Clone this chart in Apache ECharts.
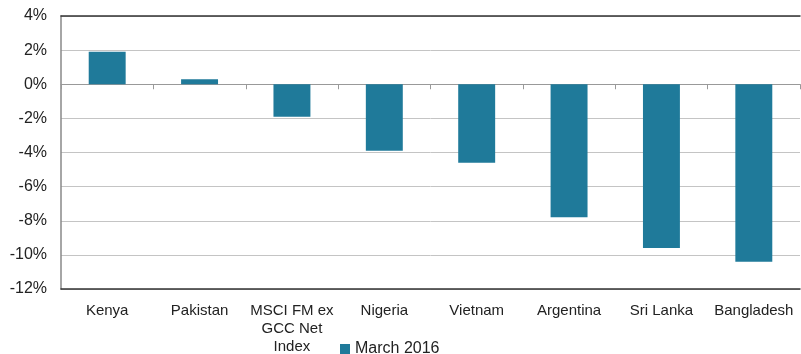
<!DOCTYPE html>
<html>
<head>
<meta charset="utf-8">
<script src="https://cdn.jsdelivr.net/npm/echarts@6/dist/echarts.min.js"></script>
<style>
  html, body { margin: 0; padding: 0; background: #fff; }
  #chart { width: 801px; height: 354px; }
</style>
</head>
<body>
<div id="chart"></div>
<script>
// categories and values (percent)
var categories = ['Kenya', 'Pakistan', 'MSCI FM ex\nGCC Net\nIndex', 'Nigeria', 'Vietnam', 'Argentina', 'Sri Lanka', 'Bangladesh']
var march2016 = [1.9, 0.3, -1.9, -3.9, -4.6, -7.8, -9.6, -10.4]
var seriesName = 'March 2016'

var chart = echarts.init(document.getElementById('chart'))
var font = 'Liberation Sans, Arial, sans-serif'

chart.setOption({
  animation: false,
  grid: { left: 61, right: 1, top: 16, bottom: 65, containLabel: false, outerBoundsMode: 'none' },
  legend: {
    data: [seriesName],
    left: 335,
    top: 336,
    itemWidth: 10,
    itemHeight: 10,
    itemGap: 5,
    icon: 'rect',
    textStyle: { fontFamily: font, fontSize: 16, color: '#222' }
  },
  xAxis: [
    {
      type: 'category',
      data: categories,
      position: 'bottom',
      axisLine: { onZero: false, lineStyle: { color: '#333', width: 1.5 } },
      axisTick: { show: false },
      axisLabel: { fontFamily: font, fontSize: 15, color: '#222', margin: 13, lineHeight: 18, interval: 0 }
    },
    {
      type: 'category',
      data: categories,
      position: 'top',
      axisLine: { onZero: false, lineStyle: { color: '#333', width: 1.5 } },
      axisTick: { show: false },
      axisLabel: { show: false }
    },
    {
      type: 'category',
      data: categories,
      position: 'bottom',
      axisLine: { onZero: true, lineStyle: { color: '#999' } },
      axisTick: { show: true, inside: false, length: 5, lineStyle: { color: '#999' } },
      axisLabel: { show: false }
    }
  ],
  yAxis: {
    type: 'value',
    min: -12,
    max: 4,
    interval: 2,
    axisLine: { show: true, lineStyle: { color: '#888', width: 1.5 } },
    axisTick: { show: false },
    splitLine: { lineStyle: { color: '#c4c4c4' } },
    axisLabel: {
      fontFamily: font, fontSize: 16, color: '#222', margin: 14,
      formatter: function (v) { return v + '%' }
    }
  },
  series: [
    {
      name: seriesName,
      type: 'bar',
      xAxisIndex: 0,
      data: march2016,
      barWidth: '40%',
      itemStyle: { color: '#1f7a9a' }
    }
  ]
})
</script>
</body>
</html>
